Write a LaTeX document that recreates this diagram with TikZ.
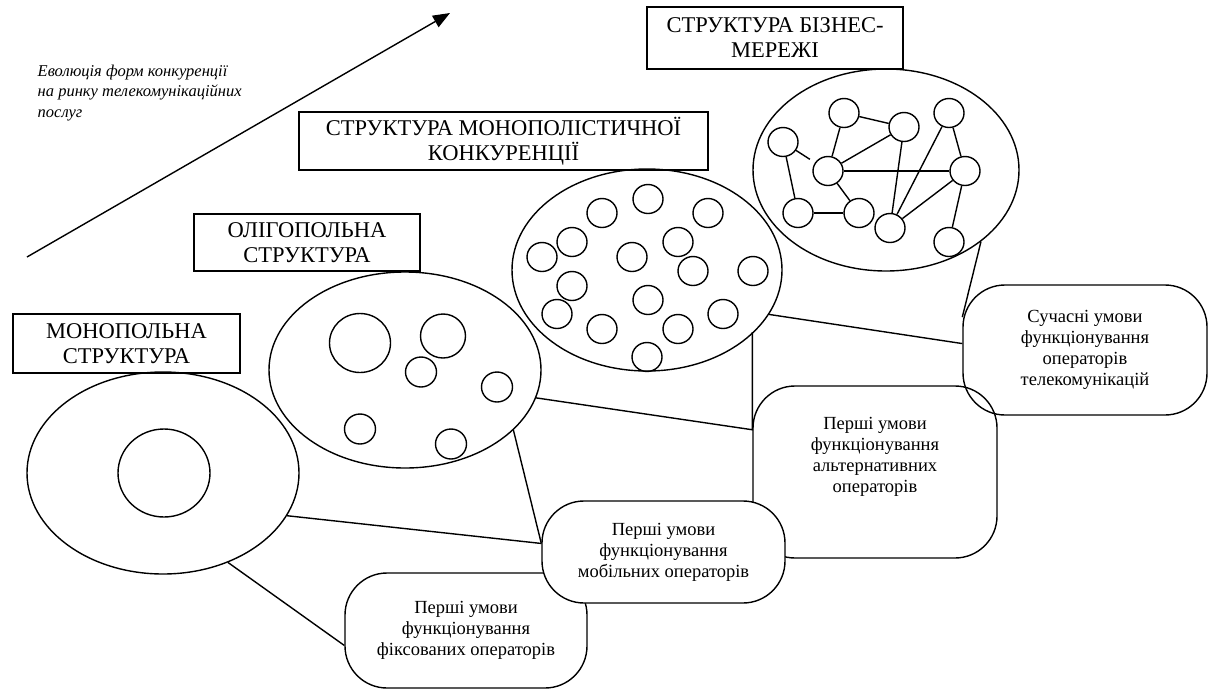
\documentclass[tikz,border=0pt]{standalone}
\usepackage{fontspec}
\setmainfont{Liberation Serif}
\usetikzlibrary{shapes.geometric,arrows.meta}
\begin{document}
\begin{tikzpicture}[x=1pt,y=-1pt,line width=1.4pt,
  every node/.style={inner sep=0pt},
  market/.style={draw,ellipse},
  firm/.style={draw,ellipse,minimum width=30pt,minimum height=29pt},
  title/.style={draw,rectangle,align=center,font=\fontsize{22.5}{25}\selectfont},
  cond/.style={draw,rectangle,rounded corners=42pt,align=center,
    font=\fontsize{18.5}{21}\selectfont}]
\useasboundingbox (0,0) rectangle (1217,691);

% evolution arrow and its caption
\coordinate (evoS) at (27,257);
\coordinate (evoE) at (450,13);
\draw[-{Triangle[length=17pt,width=13pt]}] (evoS) -- (evoE);
\node[anchor=north west,align=left,font=\fontsize{16.5}{20.5}\selectfont\itshape]
  (evo) at (37,64) {Еволюція форм конкуренції\\на ринку телекомунікаційних\\послуг};

% structure titles
\node[title,minimum width=256pt,minimum height=62pt] (tBus) at (775,38) {СТРУКТУРА БІЗНЕС-\\МЕРЕЖІ};
\node[title,minimum width=409pt,minimum height=58pt] (tMpc) at (503.5,141) {СТРУКТУРА МОНОПОЛІСТИЧНОЇ\\КОНКУРЕНЦІЇ};
\node[title,minimum width=226pt,minimum height=57pt] (tOli) at (307,242.5) {ОЛІГОПОЛЬНА\\СТРУКТУРА};
\node[title,minimum width=227pt,minimum height=59pt] (tMon) at (126.5,343.5) {МОНОПОЛЬНА\\СТРУКТУРА};

% markets
\node[market,minimum width=272pt,minimum height=202pt] (mon) at (163,473) {};
\node[market,minimum width=272pt,minimum height=196pt] (oli) at (405,370) {};
\node[market,minimum width=270pt,minimum height=202pt] (mpc) at (647,270) {};
\node[market,minimum width=266pt,minimum height=202pt] (bus) at (886,170) {};

% monopoly: one firm
\node[draw,ellipse,minimum width=92pt,minimum height=88pt] (monF) at (164,473) {};

% oligopoly: a few firms
\node[draw,ellipse,minimum width=61pt,minimum height=59pt] (o1) at (360,343) {};
\node[draw,ellipse,minimum width=45pt,minimum height=44pt] (o2) at (443,336) {};
\node[firm,minimum width=31pt,minimum height=30pt] (o3) at (421,372) {};
\node[firm,minimum width=31pt,minimum height=30pt] (o4) at (497,387) {};
\node[firm,minimum width=31pt,minimum height=30pt] (o5) at (360,429) {};
\node[firm,minimum width=31pt,minimum height=30pt] (o6) at (451,444) {};

% monopolistic competition: many firms
\foreach \i/\x/\y in {1/602/213,2/648/199,3/708/213,4/572/242,5/542/257,6/632/257,
  7/678/242,8/693/271,9/753/271,10/572/286,11/648/300,12/557/314,13/602/329,
  14/678/329,15/723/314,16/647/357}
  \node[firm] (p\i) at (\x,\y) {};

% business network
\node[firm] (nA) at (844,113) {};
\node[firm] (nB) at (904,127) {};
\node[firm] (nC) at (949,113) {};
\node[firm] (nD) at (783,142) {};
\node[firm] (nE) at (828,171) {};
\node[firm] (nF) at (965,171) {};
\node[firm] (nG) at (798,213) {};
\node[firm] (nH) at (859,213) {};
\node[firm] (nI) at (890,228) {};
\node[firm] (nJ) at (949,242) {};
\draw (nA) -- (nB);
\draw (nA) -- (nE);
\draw[shorten >=6pt] (nD) -- (nE);
\draw (nD) -- (nG);
\draw (nG) -- (nH);
\draw (nE) -- (nH);
\draw (nE) -- (nB);
\draw (nE) -- (nF);
\draw (nB) -- (nI);
\draw (nC) -- (nI);
\draw (nC) -- (nF);
\draw (nF) -- (nI);
\draw (nF) -- (nJ);

% operating conditions
\node[cond,minimum width=242pt,minimum height=115pt] (fix) at (466,630.5)
  {Перші умови\\функціонування\\фіксованих операторів};
\node[cond,minimum width=244pt,minimum height=172pt] (alt) at (875,472)
  {\raisebox{15pt}[\height][\depth]{\begin{tabular}{@{}c@{}}Перші умови\\функціонування\\альтернативних\\операторів\end{tabular}}};
\node[cond,minimum width=244pt,minimum height=130pt] (suc) at (1085,350)
  {Сучасні умови\\функціонування\\операторів\\телекомунікацій};
\node[cond,fill=white,minimum width=243pt,minimum height=102pt] (mob) at (663.5,552)
  {Перші умови\\функціонування\\мобільних операторів};

% connectors
\draw (mon.-54.6) -- (fix.187);
\draw (mon.-19.4) -- (mob.176);
\draw (oli.-29.3) -- (mob.176);
\draw (oli.-12.9) -- (alt.161) -- (alt.161 |- mpc.-30.7);
\draw (mpc.-20) -- (suc.177);
\draw (bus.-37.8) -- (suc.165);
\end{tikzpicture}
\end{document}
